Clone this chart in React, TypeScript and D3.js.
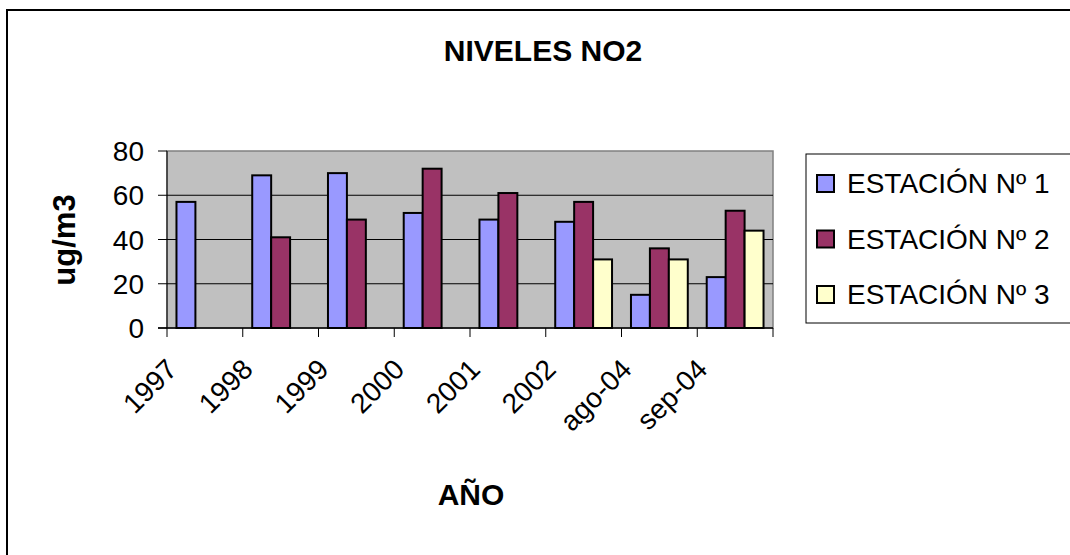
import React from "react";
import * as d3 from "d3";

const categories = ["1997", "1998", "1999", "2000", "2001", "2002", "ago-04", "sep-04"];
const seriesNames = ["ESTACIÓN Nº 1", "ESTACIÓN Nº 2", "ESTACIÓN Nº 3"];
const estacion1 = [57, 69, 70, 52, 49, 48, 15, 23];
const estacion2 = [null, 41, 49, 72, 61, 57, 36, 53];
const estacion3 = [null, null, null, null, null, 31, 31, 44];
const yTicks = [0, 20, 40, 60, 80];
const colors = ["#9999FF", "#993366", "#FFFFCC"];

const FONT = "'Liberation Sans', Arial, sans-serif";

export default function App() {
  const W = 1070, H = 555;
  const left = 167, right = 773, top = 151, bottom = 328;
  const x = d3.scaleBand<string>().domain(categories).range([left, right]).paddingInner(0).paddingOuter(0);
  const y = d3.scaleLinear().domain([0, 80]).range([bottom, top]);
  const series = [estacion1, estacion2, estacion3];
  const bw = x.bandwidth() / (series.length + 1);
  const off = (x.bandwidth() - bw * series.length) / 2;

  return (
    <svg width={W} height={H} style={{ position: "absolute", left: 0, top: 0, background: "#fff" }}>
      <rect x={7} y={10} width={W + 20} height={H + 20} fill="#fff" stroke="#000" strokeWidth={2} />
      <text x={543} y={61} textAnchor="middle" fontFamily={FONT} fontWeight="bold" fontSize={30}>NIVELES NO2</text>
      {/* plot area */}
      <rect x={left} y={top} width={right - left} height={bottom - top} fill="#C0C0C0" stroke="#808080" strokeWidth={1.5} />
      {yTicks.filter(t => t > 0 && t < 80).map(t => (
        <line key={t} x1={left} x2={right} y1={y(t)} y2={y(t)} stroke="#000" strokeWidth={1} />
      ))}
      {/* bars */}
      {series.map((s, si) => s.map((v, ci) => v == null ? null : (
        <rect key={si + "-" + ci}
          x={(x(categories[ci]) as number) + off + si * bw}
          y={y(v)}
          width={bw}
          height={y(0) - y(v)}
          fill={colors[si]} stroke="#000" strokeWidth={2} />
      )))}
      {/* axes */}
      <line x1={left} x2={left} y1={top} y2={bottom} stroke="#000" strokeWidth={1} />
      <line x1={left - 9} x2={right} y1={bottom} y2={bottom} stroke="#000" strokeWidth={1.5} />
      {yTicks.map(t => (
        <g key={t}>
          <line x1={left - 9} x2={left} y1={y(t)} y2={y(t)} stroke="#000" strokeWidth={1} />
          <text x={144} y={y(t)} dy="0.36em" textAnchor="end" fontFamily={FONT} fontSize={28}>{t}</text>
        </g>
      ))}
      {categories.concat(["__end"]).map((c, i) => {
        const xx = left + i * x.bandwidth();
        return <line key={"t" + i} x1={xx} x2={xx} y1={bottom} y2={bottom + 9} stroke="#000" strokeWidth={1} />;
      })}
      {categories.map(c => {
        const cx = (x(c) as number) + x.bandwidth() / 2 - 26;
        const cy = 371;
        return (
          <text key={c} x={cx} y={cy} textAnchor="end" fontFamily={FONT} fontSize={28}
            transform={`rotate(-45 ${cx} ${cy})`}>{c}</text>
        );
      })}
      <text x={75} y={240} textAnchor="middle" fontFamily={FONT} fontWeight="bold" fontSize={31}
        transform="rotate(-90 75 240)">ug/m3</text>
      <text x={471} y={505} textAnchor="middle" fontFamily={FONT} fontWeight="bold" fontSize={30}>AÑO</text>
      {/* legend */}
      <rect x={806} y={154} width={300} height={169} fill="#fff" stroke="#000" strokeWidth={1} />
      {seriesNames.map((n, i) => {
        const by = 193 + i * 55.5;
        return (
          <g key={n}>
            <rect x={817} y={by - 18} width={17} height={17} fill={colors[i]} stroke="#000" strokeWidth={2} />
            <text x={847} y={by} fontFamily={FONT} fontSize={28}>{n}</text>
          </g>
        );
      })}
    </svg>
  );
}
